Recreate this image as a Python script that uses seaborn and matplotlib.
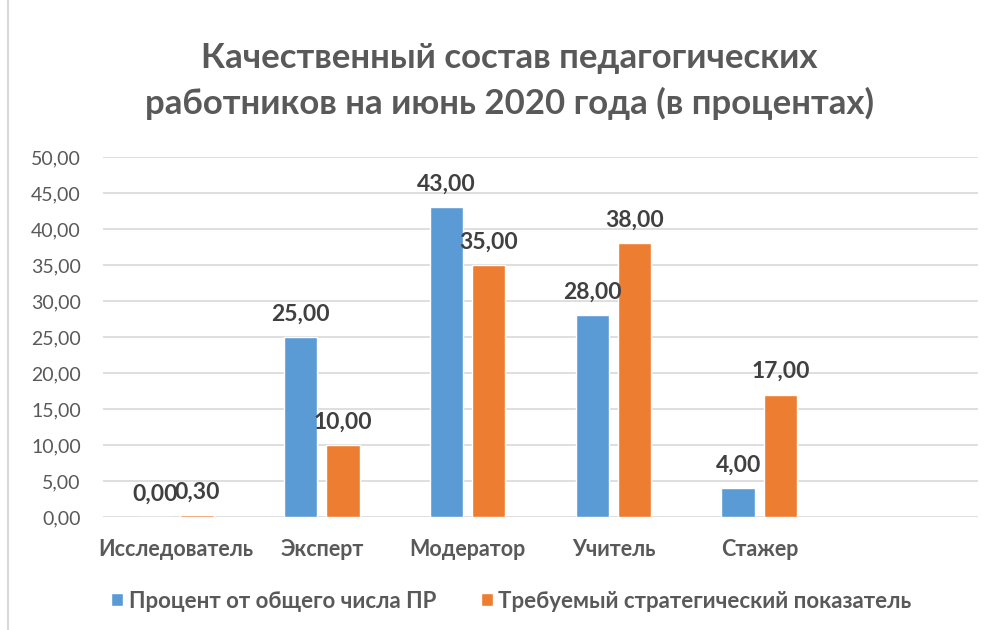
import pandas as pd
import seaborn as sns
import matplotlib.pyplot as plt
from matplotlib.lines import Line2D
from matplotlib.patches import Patch

# data
categories = ["Исследователь", "Эксперт", "Модератор", "Учитель", "Стажер", ""]
series_names = ["Процент от общего числа ПР", "Требуемый стратегический показатель"]
share_pct = [0.00, 25.00, 43.00, 28.00, 4.00]
target_pct = [0.30, 10.00, 35.00, 38.00, 17.00]
colors = ["#5B9BD5", "#ED7D31"]

df = pd.DataFrame({
    "cat": categories[:5] * 2,
    "series": [series_names[0]] * 5 + [series_names[1]] * 5,
    "value": share_pct + target_pct,
})

sns.set_style("white")
plt.rcParams["font.family"] = ["Lato", "DejaVu Sans"]
text_col = "#595959"

fig = plt.figure(figsize=(9.93, 6.3), dpi=100)
ax = fig.add_axes([0.1037, 0.1794, 0.8813, 0.5714])

sns.barplot(data=df, x="cat", y="value", hue="series", order=categories,
            hue_order=series_names, palette=colors, width=0.58, gap=0.21,
            saturation=1, legend=False, ax=ax)

ax.set_ylim(0, 50)
ax.set_yticks(range(0, 51, 5))
ax.set_yticklabels([f"{v:.2f}".replace(".", ",") for v in range(0, 51, 5)],
                   fontsize=14, color=text_col)
ax.set_xlim(-0.5, len(categories) - 0.5)
ax.set_xticks(range(len(categories)))
ax.set_xticklabels(categories, fontsize=15.5, fontweight="bold", color=text_col)
ax.tick_params(axis="y", length=0, pad=16)
ax.tick_params(axis="x", length=0, pad=16)
ax.set_xlabel("")
ax.set_ylabel("")
ax.grid(axis="y", color="#D9D9D9", lw=1.2)
ax.set_axisbelow(True)
for s in ax.spines.values():
    s.set_visible(False)

for cont in ax.containers:
    labels = [f"{b.get_height():.2f}".replace(".", ",") if b.get_height() == b.get_height() else ""
              for b in cont]
    ax.bar_label(cont, labels=labels, padding=9, fontsize=16.5, fontweight="bold", color="#404040")

fig.text(0.513, 0.908, "Качественный состав педагогических", ha="center", va="center",
         fontsize=25, fontweight="bold", color=text_col)
fig.text(0.513, 0.836, "работников на июнь 2020 года (в процентах)", ha="center", va="center",
         fontsize=25, fontweight="bold", color=text_col)

handles = [Patch(facecolor=c, label=n) for c, n in zip(colors, series_names)]
fig.legend(handles=handles, loc="center", bbox_to_anchor=(0.515, 0.046), ncol=2, frameon=False,
           prop={"size": 16, "weight": "bold"}, labelcolor=text_col, handlelength=0.55,
           handleheight=0.55, handletextpad=0.25, columnspacing=2.0)

fig.add_artist(Line2D([0.008, 0.008], [0, 1], color="#D9D9D9", lw=1.5, transform=fig.transFigure))

fig.savefig("out.png", dpi=100)
